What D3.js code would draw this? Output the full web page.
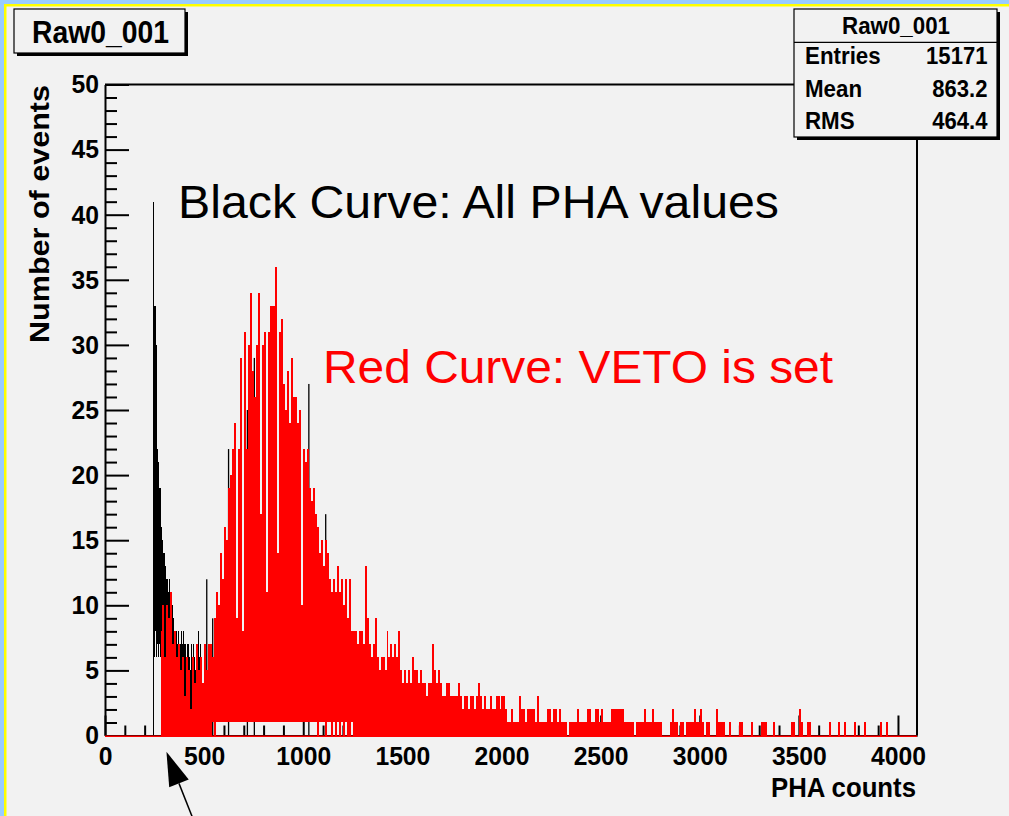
<!DOCTYPE html>
<html><head><meta charset="utf-8">
<script src="https://cdn.jsdelivr.net/npm/d3@7"></script>
<style>
body{margin:0;background:#f2f2f2;}
svg{display:block;}
text{font-family:"Liberation Sans",Arial,Helvetica,sans-serif;}
</style>
</head><body>
<svg id="c" width="1009" height="816"></svg>
<script>
// ---------------- data ----------------
const histTitle = "Raw0_001";
const statLabels = ["Entries", "Mean", "RMS"];
const statValues = ["15171", "863.2", "464.4"];
const xTitle = "PHA counts";
const yTitle = "Number of events";
const noteBlack = "Black Curve: All PHA values";
const noteRed = "Red Curve: VETO is set";
const xRange = [0, 4096];
const yRange = [0, 50];
const xMajorTicks = [0, 500, 1000, 1500, 2000, 2500, 3000, 3500, 4000];
const yMajorTicks = [0, 5, 10, 15, 20, 25, 30, 35, 40, 45, 50];
const xMinorStep = 100;
const yMinorStep = 1;

// red histogram (VETO set): top of each 10-channel bin, bins start at channel 0
const redBinWidth = 10;
const redHigh = [
 0,0,0,0,0,0,0,0,0,0,
 0,0,0,0,0,0,0,0,0,0,
 0,0,0,0,0,0,0,0,8,10,
 6,10,9,11,7,8,6,7,5,6,
 3,6,5,2,6,4,7,5,6,4,
 7,5,7,7,6,9,11,10,14,12,
 16,15,19,20,22,24,9,22,29,8,
 31,22,30,34,28,26,30,34,17,30,
 31,11,31,33,33,33,36,14,31,32,
 27,25,28,24,29,26,26,24,25,10,
 22,21,22,19,18,19,17,16,14,15,
 13,15,14,12,11,12,11,13,11,12,
 10,12,9,12,8,8,8,7,8,8,
 7,13,9,7,6,7,9,6,5,6,
 6,5,8,6,7,6,7,6,8,5,
 4,5,4,5,4,6,5,5,4,5,
 4,4,3,4,4,7,5,4,5,4,
 3,3,4,4,3,3,3,3,4,3,
 2,3,3,2,3,3,2,3,4,3,
 2,3,2,2,3,2,2,3,3,2,
 3,3,2,1,1,2,1,1,1,3,
 2,2,1,2,2,2,2,1,3,1,
 1,1,1,2,2,1,2,2,1,2,
 1,1,1,0,1,1,1,1,2,1,
 1,1,1,2,2,1,1,2,2,1,
 2,1,1,1,1,2,2,2,2,2,
 2,2,1,1,1,1,1,0,1,1,
 1,1,2,1,1,1,2,1,1,1,
 1,0,0,0,0,1,2,1,1,0,
 1,1,0,1,1,1,1,2,1,1,
 2,1,0,1,1,0,0,0,2,1,
 1,1,1,0,0,1,0,0,0,0,
 1,1,0,0,0,0,1,0,0,0,
 0,1,1,1,0,0,0,1,0,0,
 0,0,0,0,0,0,1,1,0,0,
 2,1,0,0,1,1,0,0,0,0,
 0,0,0,0,0,1,0,0,0,0,
 1,0,0,1,0,0,0,0,1,0,
 0,0,0,1,0,0,0,0,0,0,
 0,1,0,0,1,0,0,0,0,0
];
// lower edge of the red trace inside the main peak (bins 52..125), elsewhere 0
const redLowStartBin = 52;
const redLow = [
 0,0,1,0,1,1,1,1,
 1,1,1,1,1,1,1,1,1,1,
 1,1,1,1,1,1,1,1,1,1,
 1,1,1,1,1,1,1,1,1,1,
 1,1,1,1,1,1,1,1,1,1,
 1,1,1,1,1,1,1,0,1,1,
 1,0,1,1,0,1,0,1,0,1,
 0,1,0,0,1,0
];

// black histogram (all PHA values), visible part: 5-channel bins from channel 240
const blackStart = 240;
const blackBinWidth = 5;
const blackHigh = [41,33,33,30,22,21,19,19,16,16, 15,14,14,13,12,12,11,12,10,9,
                   10,9,8,8,8,7,8,7,7,8, 7,8,7,7,6,7,7,6,5,7, 6,7,6,5,7,6,8,6,7];
const blackLow  = [0,6,8,6,7,6,7,6,0,0, 0,0,0,0,0,0,0,0,0,0,
                   0,0,0,0,0,0,0,0,0,0, 0,0,0,0,0,0,0,0,0,0, 0,0,0,0,0,0,0,0,0];
// isolated black bins poking above the red trace: [channel, count]
const blackSpikes = [[510,12],[540,9],[620,22],[715,25],[750,29],[1025,27],[1110,17]];

// ---------------- drawing ----------------
const W = 1009, H = 816;
const svg = d3.select("#c");
const x = d3.scaleLinear().domain(xRange).range([105, 917]);
const y = d3.scaleLinear().domain(yRange).range([735.5, 84.5]);

svg.append("rect").attr("width", W).attr("height", H).attr("fill", "#f2f2f2");
// window border
svg.append("rect").attr("x",0).attr("y",0).attr("width",W).attr("height",4).attr("fill","#99ccff");
svg.append("rect").attr("x",0).attr("y",0).attr("width",4).attr("height",H).attr("fill","#99ccff");
svg.append("rect").attr("x",4).attr("y",4).attr("width",W-4).attr("height",2.5).attr("fill","#ffff00");
svg.append("rect").attr("x",4).attr("y",4).attr("width",2.5).attr("height",H-4).attr("fill","#ffff00");

function condense(sel, f) {
  sel.each(function() {
    const w = this.getComputedTextLength();
    d3.select(this).attr("textLength", w * f).attr("lengthAdjust", "spacingAndGlyphs");
  });
}

// minor ticks
const xMinor = d3.range(xRange[0], xRange[1], xMinorStep).filter(v => v % 500 !== 0);
const yMinor = d3.range(yRange[0], yRange[1], yMinorStep).filter(v => v % 5 !== 0);
svg.append("g").attr("transform", `translate(0,${y(0)})`)
  .call(d3.axisBottom(x).tickValues(xMinor).tickSize(-10).tickSizeOuter(0).tickFormat(""))
  .call(g => g.select(".domain").remove())
  .call(g => g.selectAll("line").attr("stroke", "#000").attr("stroke-width", 2));
svg.append("g").attr("transform", `translate(${x(0)},0)`)
  .call(d3.axisLeft(y).tickValues(yMinor).tickSize(-12).tickSizeOuter(0).tickFormat(""))
  .call(g => g.select(".domain").remove())
  .call(g => g.selectAll("line").attr("stroke", "#000").attr("stroke-width", 2));

// major axes
const gx = svg.append("g").attr("transform", `translate(0,${y(0)})`)
  .call(d3.axisBottom(x).tickValues(xMajorTicks).tickSize(-20).tickSizeOuter(0).tickPadding(11).tickFormat(d3.format("d")));
const gy = svg.append("g").attr("transform", `translate(${x(0)},0)`)
  .call(d3.axisLeft(y).tickValues(yMajorTicks).tickSize(-24).tickSizeOuter(0).tickPadding(6).tickFormat(d3.format("d")));
[gx, gy].forEach(g => {
  g.select(".domain").attr("stroke", "#000").attr("stroke-width", 2);
  g.selectAll("line").attr("stroke", "#000").attr("stroke-width", 2);
  g.selectAll("text").attr("font-size", 26).attr("font-weight", "bold").attr("fill", "#000")
    .attr("font-family", '"Liberation Sans",Arial,sans-serif').call(condense, 0.95);
});

// frame top & right
svg.append("path")
  .attr("d", `M${x(xRange[0])},${y(yRange[1])}H${x(xRange[1])}V${y(0)}`)
  .attr("fill", "none").attr("stroke", "#000").attr("stroke-width", 2);

// histograms
svg.append("clipPath").attr("id", "plotclip").append("rect")
  .attr("x", x(xRange[0])).attr("y", y(yRange[1])).attr("width", x(xRange[1]) - x(xRange[0]))
  .attr("height", y(0) - y(yRange[1]) + 2);
const hg = svg.append("g").attr("clip-path", "url(#plotclip)");

const bandArea = d3.area().curve(d3.curveStepAfter)
  .x(d => x(d.ch)).y0(d => y(d.lo)).y1(d => y(d.hi));

// black trace (drawn first, red on top)
const blackBins = blackHigh.map((v, k) => ({ch: blackStart + k * blackBinWidth, hi: v, lo: blackLow[k] || 0}));
blackBins.push({ch: blackStart + blackHigh.length * blackBinWidth, hi: 0, lo: 0});
hg.append("path").datum(blackBins).attr("d", bandArea).attr("fill", "#000")
  .attr("shape-rendering", "crispEdges");
hg.selectAll("rect.bsp").data(blackSpikes).join("rect").attr("class", "bsp")
  .attr("x", d => x(d[0]))
  .attr("width", 1.3)
  .attr("y", d => y(d[1]))
  .attr("height", d => y(0) - y(d[1]))
  .attr("fill", "#000");

// red trace
const redBins = redHigh.map((v, i) => {
  const j = i - redLowStartBin;
  const lo = (j >= 0 && j < redLow.length) ? redLow[j] : 0;
  return {ch: i * redBinWidth, hi: v, lo: Math.min(lo, v)};
});
redBins.push({ch: redHigh.length * redBinWidth, hi: 0, lo: 0});
hg.append("path").datum(redBins).attr("d", bandArea).attr("fill", "#ff0000")
  .attr("shape-rendering", "crispEdges");
// zero-level part of the red trace
svg.append("line")
  .attr("x1", x(xRange[0])).attr("x2", x(xRange[1]))
  .attr("y1", y(0) + 0.75).attr("y2", y(0) + 0.75)
  .attr("stroke", "#ff0000").attr("stroke-width", 1.5);

// annotations
svg.append("text").attr("x", 178).attr("y", 218).attr("font-size", 47).attr("fill", "#000")
  .attr("textLength", 601).attr("lengthAdjust", "spacingAndGlyphs").text(noteBlack);
svg.append("text").attr("x", 323).attr("y", 383).attr("font-size", 47).attr("fill", "#ff0000")
  .attr("textLength", 510).attr("lengthAdjust", "spacingAndGlyphs").text(noteRed);

// arrow pointing at the low-energy threshold (positions in data units)
const tip = [x(310), y(-1.25)], tail = [x(440), y(-6.25)];
const ang = Math.atan2(tip[1] - tail[1], tip[0] - tail[0]);
const hl = 34, hw = 10.5;
const bx = tip[0] - hl * Math.cos(ang), by = tip[1] - hl * Math.sin(ang);
svg.append("line").attr("x1", tail[0]).attr("y1", tail[1]).attr("x2", bx).attr("y2", by)
  .attr("stroke", "#000").attr("stroke-width", 1.5);
svg.append("polygon")
  .attr("points", [tip, [bx + hw * Math.sin(ang), by - hw * Math.cos(ang)], [bx - hw * Math.sin(ang), by + hw * Math.cos(ang)]].map(p => p.join(",")).join(" "))
  .attr("fill", "#000");

// axis titles
svg.append("text").attr("x", 916).attr("y", 797).attr("text-anchor", "end")
  .attr("font-size", 28).attr("font-weight", "bold")
  .attr("textLength", 145).attr("lengthAdjust", "spacingAndGlyphs").text(xTitle);
svg.append("text").attr("transform", "translate(49,85) rotate(-90)").attr("text-anchor", "end")
  .attr("font-size", 28).attr("font-weight", "bold")
  .attr("textLength", 258).attr("lengthAdjust", "spacingAndGlyphs").text(yTitle);

// title box
svg.append("rect").attr("x", 17).attr("y", 12).attr("width", 171).attr("height", 44).attr("fill", "#000");
svg.append("rect").attr("x", 14).attr("y", 9).attr("width", 171).attr("height", 44)
  .attr("fill", "#f2f2f2").attr("stroke", "#000").attr("stroke-width", 1.2);
svg.append("text").attr("x", 100.5).attr("y", 42.7).attr("text-anchor", "middle")
  .attr("font-size", 31).attr("font-weight", "bold")
  .attr("textLength", 137).attr("lengthAdjust", "spacingAndGlyphs").text(histTitle);

// stats box
const sb = {x: 794, y: 9, w: 203, h: 128};
svg.append("rect").attr("x", sb.x + 3).attr("y", sb.y + 3).attr("width", sb.w).attr("height", sb.h).attr("fill", "#000");
svg.append("rect").attr("x", sb.x).attr("y", sb.y).attr("width", sb.w).attr("height", sb.h)
  .attr("fill", "#f2f2f2").attr("stroke", "#000").attr("stroke-width", 1.2);
svg.append("line").attr("x1", sb.x).attr("x2", sb.x + sb.w).attr("y1", 42.3).attr("y2", 42.3)
  .attr("stroke", "#000").attr("stroke-width", 1.2);
svg.append("text").attr("x", 896).attr("y", 34).attr("text-anchor", "middle")
  .attr("font-size", 24).attr("font-weight", "bold").text(histTitle).call(condense, 0.93);
const rowY = [64, 97.3, 129.3];
statLabels.forEach((s, i) => {
  svg.append("text").attr("x", 805).attr("y", rowY[i]).attr("font-size", 24).attr("font-weight", "bold")
    .text(s).call(condense, 0.93);
  svg.append("text").attr("x", 987.5).attr("y", rowY[i]).attr("text-anchor", "end")
    .attr("font-size", 24).attr("font-weight", "bold").text(statValues[i]).call(condense, 0.92);
});
</script>
</body></html>
